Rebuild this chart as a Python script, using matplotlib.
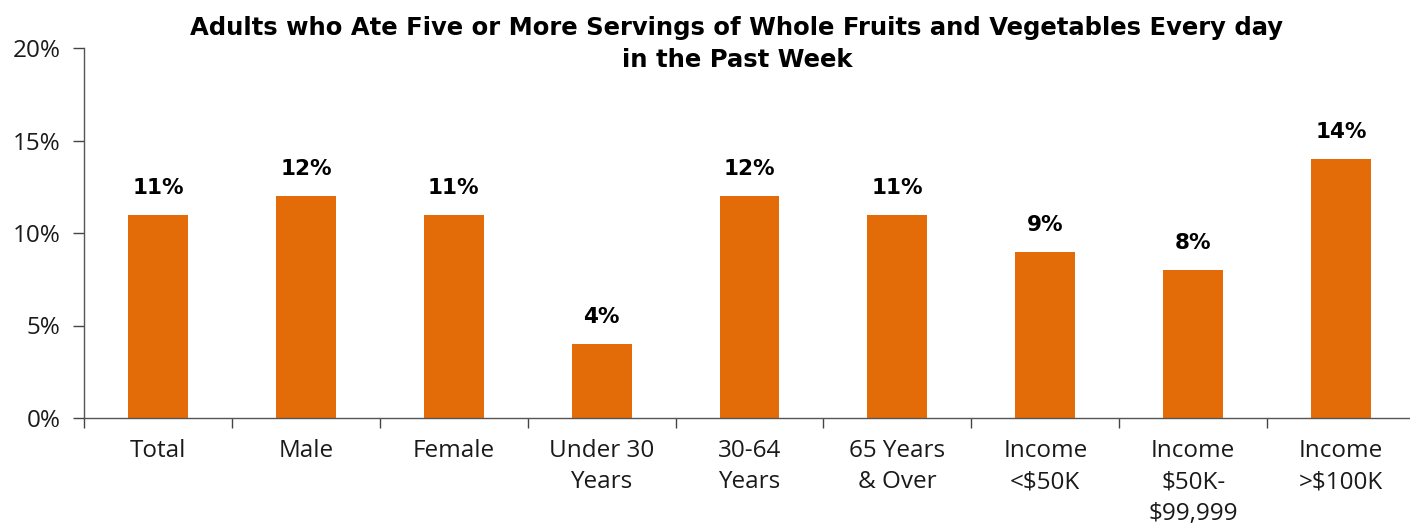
import matplotlib
matplotlib.use("Agg")
import matplotlib.pyplot as plt
from matplotlib.ticker import FixedLocator, PercentFormatter

categories = ["Total", "Male", "Female", "Under 30\nYears", "30-64\nYears",
              "65 Years\n& Over", "Income\n<$50K", "Income\n$50K-\n$99,999",
              "Income\n>$100K"]
values = [11, 12, 11, 4, 12, 11, 9, 8, 14]

ORANGE = "#E36C09"
TXT = "#1a1a1a"

fig = plt.figure(figsize=(14.1, 5.25), dpi=100)
ax = fig.add_axes([84 / 1410, 107 / 525, 1331 / 1410, 370 / 525])

x = range(len(categories))
ax.bar(x, values, width=0.405, color=ORANGE, zorder=2)

for xi, v in zip(x, values):
    ax.annotate(f"{v}%", (xi, v), xytext=(0, 12), textcoords="offset points",
                ha="center", va="bottom", fontsize=15.5, fontweight="bold",
                family="DejaVu Sans", color="black")

ax.set_xlim(-0.5, len(categories) - 0.5)
ax.set_ylim(0, 20)
ax.set_yticks([0, 5, 10, 15, 20])
ax.yaxis.set_major_formatter(PercentFormatter(decimals=0))

ax.set_xticks(list(x))
ax.set_xticklabels(categories, fontsize=17.5, family="Open Sans", color=TXT,
                   linespacing=1.42)
ax.xaxis.set_minor_locator(FixedLocator([i - 0.5 for i in range(len(categories) + 1)]))
ax.tick_params(axis="x", which="major", length=0, pad=15)
ax.tick_params(axis="x", which="minor", length=7, width=1, color="#444444", direction="out")
ax.tick_params(axis="y", length=8, width=1, color="#444444", pad=9, labelsize=17.5)
for lbl in ax.get_yticklabels():
    lbl.set_family("Open Sans")
    lbl.set_color(TXT)

for s in ["top", "right"]:
    ax.spines[s].set_visible(False)
for s in ["left", "bottom"]:
    ax.spines[s].set_color("#555555")
    ax.spines[s].set_linewidth(1)

fig.text(737 / 1410, 1 - 44 / 525,
         "Adults who Ate Five or More Servings of Whole Fruits and Vegetables Every day\nin the Past Week",
         ha="center", va="center", fontsize=17.5, fontweight="bold",
         family="DejaVu Sans", linespacing=1.45)

fig.savefig("out.png", dpi=100)
